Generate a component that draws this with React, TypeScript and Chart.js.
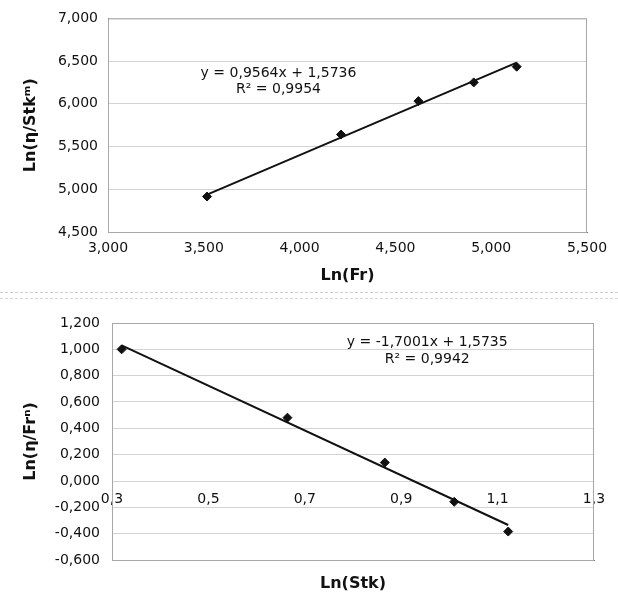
import React, { useEffect, useRef } from 'react';
import { Chart, registerables } from 'chart.js';

Chart.register(...registerables);

// ---- Top chart data: Ln(Fr) vs Ln(eta/Stk^m)
const topLnFr = [3.517, 4.216, 4.62, 4.909, 5.133];
const topLnEtaStk = [4.915, 5.641, 6.032, 6.251, 6.435];
const topSlope = 0.9564;
const topIntercept = 1.5736;
const topR2 = 0.9954;
const topXRange = [3.0, 5.5];
const topYRange = [4.5, 7.0];
const topStep = 0.5;
const topLabelAt = [3.89, 6.36, 6.175]; // x, y(eq), y(R2)

// ---- Bottom chart data: Ln(Stk) vs Ln(eta/Fr^n)
const botLnStk = [0.32, 0.664, 0.866, 1.01, 1.122];
const botLnEtaFr = [1.0, 0.481, 0.14, -0.158, -0.384];
const botSlope = -1.7001;
const botIntercept = 1.5735;
const botR2 = 0.9942;
const botXRange = [0.3, 1.3];
const botYRange = [-0.6, 1.2];
const botStep = 0.2;
const botLabelAt = [0.954, 1.055, 0.925];

const FONT = "'DejaVu Sans', 'Liberation Sans', Arial, sans-serif";
const TICK_SIZE = 14;
const TITLE_SIZE = 16;
const LABEL_SIZE = 14;

const fmt = (v: number, d: number) => {
  const n = Math.abs(v) < 1e-9 ? 0 : v;
  return n.toFixed(d).replace('.', ',');
};

const sign = (v: number) => (v < 0 ? '-' : '+');

function makeLabelPlugin(lines: string[], at: number[]) {
  return {
    id: 'trendLabel',
    afterDatasetsDraw(chart: any) {
      const { ctx, scales } = chart;
      const xs = scales.x;
      const ys = scales.y;
      ctx.save();
      ctx.font = `${LABEL_SIZE}px ${FONT}`;
      ctx.fillStyle = '#111';
      ctx.textAlign = 'center';
      ctx.textBaseline = 'middle';
      const px = xs.getPixelForValue(at[0]);
      ctx.fillText(lines[0], px, ys.getPixelForValue(at[1]));
      ctx.fillText(lines[1], px, ys.getPixelForValue(at[2]));
      ctx.restore();
    },
  };
}

const framePlugin = {
  id: 'frame',
  beforeDatasetsDraw(chart: any) {
    const { ctx, chartArea } = chart;
    ctx.save();
    ctx.strokeStyle = '#a8a8a8';
    ctx.lineWidth = 1;
    ctx.strokeRect(chartArea.left + 0.5, chartArea.top + 0.5, chartArea.right - chartArea.left - 1, chartArea.bottom - chartArea.top);
    ctx.restore();
  },
};

function trend(xs: number[], slope: number, intercept: number) {
  const x0 = xs[0];
  const x1 = xs[xs.length - 1];
  return [
    { x: x0, y: slope * x0 + intercept },
    { x: x1, y: slope * x1 + intercept },
  ];
}

const tickFont = { family: FONT, size: TICK_SIZE };
const titleFont = { family: FONT, size: TITLE_SIZE, weight: 'bold' };

function TopChart() {
  const ref = useRef<HTMLCanvasElement>(null);
  useEffect(() => {
    if (!ref.current) return;
    const eq = `y = ${fmt(topSlope, 4)}x ${sign(topIntercept)} ${fmt(Math.abs(topIntercept), 4)}`;
    const r2 = `R² = ${fmt(topR2, 4)}`;
    const chart = new Chart(ref.current, {
      type: 'scatter',
      data: {
        datasets: [
          {
            type: 'line',
            data: trend(topLnFr, topSlope, topIntercept),
            borderColor: '#111',
            borderWidth: 2,
            pointRadius: 0,
            fill: false,
          } as any,
          {
            data: topLnFr.map((x, i) => ({ x, y: topLnEtaStk[i] })),
            pointStyle: 'rectRot',
            pointRadius: 4.5,
            backgroundColor: '#111',
            borderColor: '#111',
          },
        ],
      },
      options: {
        animation: false,
        responsive: false,
        maintainAspectRatio: false,
        layout: { padding: { top: 15, right: 31, left: 0, bottom: 0 } },
        plugins: { legend: { display: false }, tooltip: { enabled: false } },
        scales: {
          x: {
            type: 'linear',
            min: topXRange[0],
            max: topXRange[1],
            ticks: {
              stepSize: topStep,
              callback: (v: any) => fmt(Number(v), 3),
              font: tickFont,
              color: '#111',
              padding: 8,
              maxRotation: 0,
            },
            grid: { display: false, drawTicks: false },
            border: { display: true, color: '#777' },
            title: {
              display: true,
              text: 'Ln(Fr)',
              font: titleFont,
              color: '#111',
              padding: { top: 0, bottom: 5 },
            },
            afterFit: (s: any) => {
              s.height = 58;
            },
          },
          y: {
            min: topYRange[0],
            max: topYRange[1],
            ticks: {
              stepSize: topStep,
              callback: (v: any) => fmt(Number(v), 3),
              font: tickFont,
              color: '#111',
              padding: 10,
            },
            grid: { color: '#d2d2d2', drawTicks: false },
            border: { display: true, color: '#777' },
            title: {
              display: true,
              text: 'Ln(η/Stkᵐ)',
              font: titleFont,
              color: '#111',
              padding: { top: 21, bottom: 0 },
            },
            afterFit: (s: any) => {
              s.width = 108;
            },
          },
        },
      } as any,
      plugins: [framePlugin, makeLabelPlugin([eq, r2], topLabelAt)],
    });
    return () => chart.destroy();
  }, []);
  return <canvas ref={ref} width={618} height={290} style={{ position: 'absolute', left: 0, top: 0, width: 618, height: 290 }} />;
}

function BottomChart() {
  const ref = useRef<HTMLCanvasElement>(null);
  useEffect(() => {
    if (!ref.current) return;
    const eq = `y = ${fmt(botSlope, 4)}x ${sign(botIntercept)} ${fmt(Math.abs(botIntercept), 4)}`;
    const r2 = `R² = ${fmt(botR2, 4)}`;
    const chart = new Chart(ref.current, {
      type: 'scatter',
      data: {
        datasets: [
          {
            type: 'line',
            data: trend(botLnStk, botSlope, botIntercept),
            borderColor: '#111',
            borderWidth: 2,
            pointRadius: 0,
            fill: false,
          } as any,
          {
            data: botLnStk.map((x, i) => ({ x, y: botLnEtaFr[i] })),
            pointStyle: 'rectRot',
            pointRadius: 4.5,
            backgroundColor: '#111',
            borderColor: '#111',
          },
        ],
      },
      options: {
        animation: false,
        responsive: false,
        maintainAspectRatio: false,
        layout: { padding: { top: 23, right: 24, left: 0, bottom: 0 } },
        plugins: { legend: { display: false }, tooltip: { enabled: false } },
        scales: {
          x: {
            type: 'linear',
            position: { y: 0 },
            min: botXRange[0],
            max: botXRange[1],
            ticks: {
              stepSize: botStep,
              callback: (v: any) => fmt(Number(v), 1),
              font: tickFont,
              color: '#111',
              padding: 10,
              maxRotation: 0,
            },
            grid: { display: false, drawTicks: false },
            border: { display: false },
          },
          x2: {
            type: 'linear',
            position: 'bottom',
            min: botXRange[0],
            max: botXRange[1],
            ticks: { display: false, stepSize: botStep },
            grid: { display: false, drawTicks: false },
            border: { display: true, color: '#777' },
            title: {
              display: true,
              text: 'Ln(Stk)',
              font: titleFont,
              color: '#111',
              padding: { top: 0, bottom: 11 },
            },
            afterFit: (s: any) => {
              s.height = 44;
            },
          },
          y: {
            min: botYRange[0],
            max: botYRange[1],
            ticks: {
              stepSize: botStep,
              callback: (v: any) => fmt(Number(v), 3),
              font: tickFont,
              color: '#111',
              padding: 12,
            },
            grid: { color: '#d2d2d2', drawTicks: false },
            border: { display: true, color: '#777' },
            title: {
              display: true,
              text: 'Ln(η/Frⁿ)',
              font: titleFont,
              color: '#111',
              padding: { top: 21, bottom: 0 },
            },
            afterFit: (s: any) => {
              s.width = 112;
            },
          },
        },
      } as any,
      plugins: [framePlugin, makeLabelPlugin([eq, r2], botLabelAt)],
    });
    return () => chart.destroy();
  }, []);
  return <canvas ref={ref} width={618} height={304} style={{ position: 'absolute', left: 0, top: 300, width: 618, height: 304 }} />;
}

export default function App() {
  return (
    <div style={{ position: 'absolute', left: 0, top: 0, width: 618, height: 604, background: '#fff', overflow: 'hidden' }}>
      <TopChart />
      <div style={{ position: 'absolute', left: 0, top: 292, width: 618, borderTop: '1px dashed #d0d0d0' }} />
      <div style={{ position: 'absolute', left: 0, top: 298, width: 618, borderTop: '1px dashed #d8d8d8' }} />
      <BottomChart />
    </div>
  );
}
